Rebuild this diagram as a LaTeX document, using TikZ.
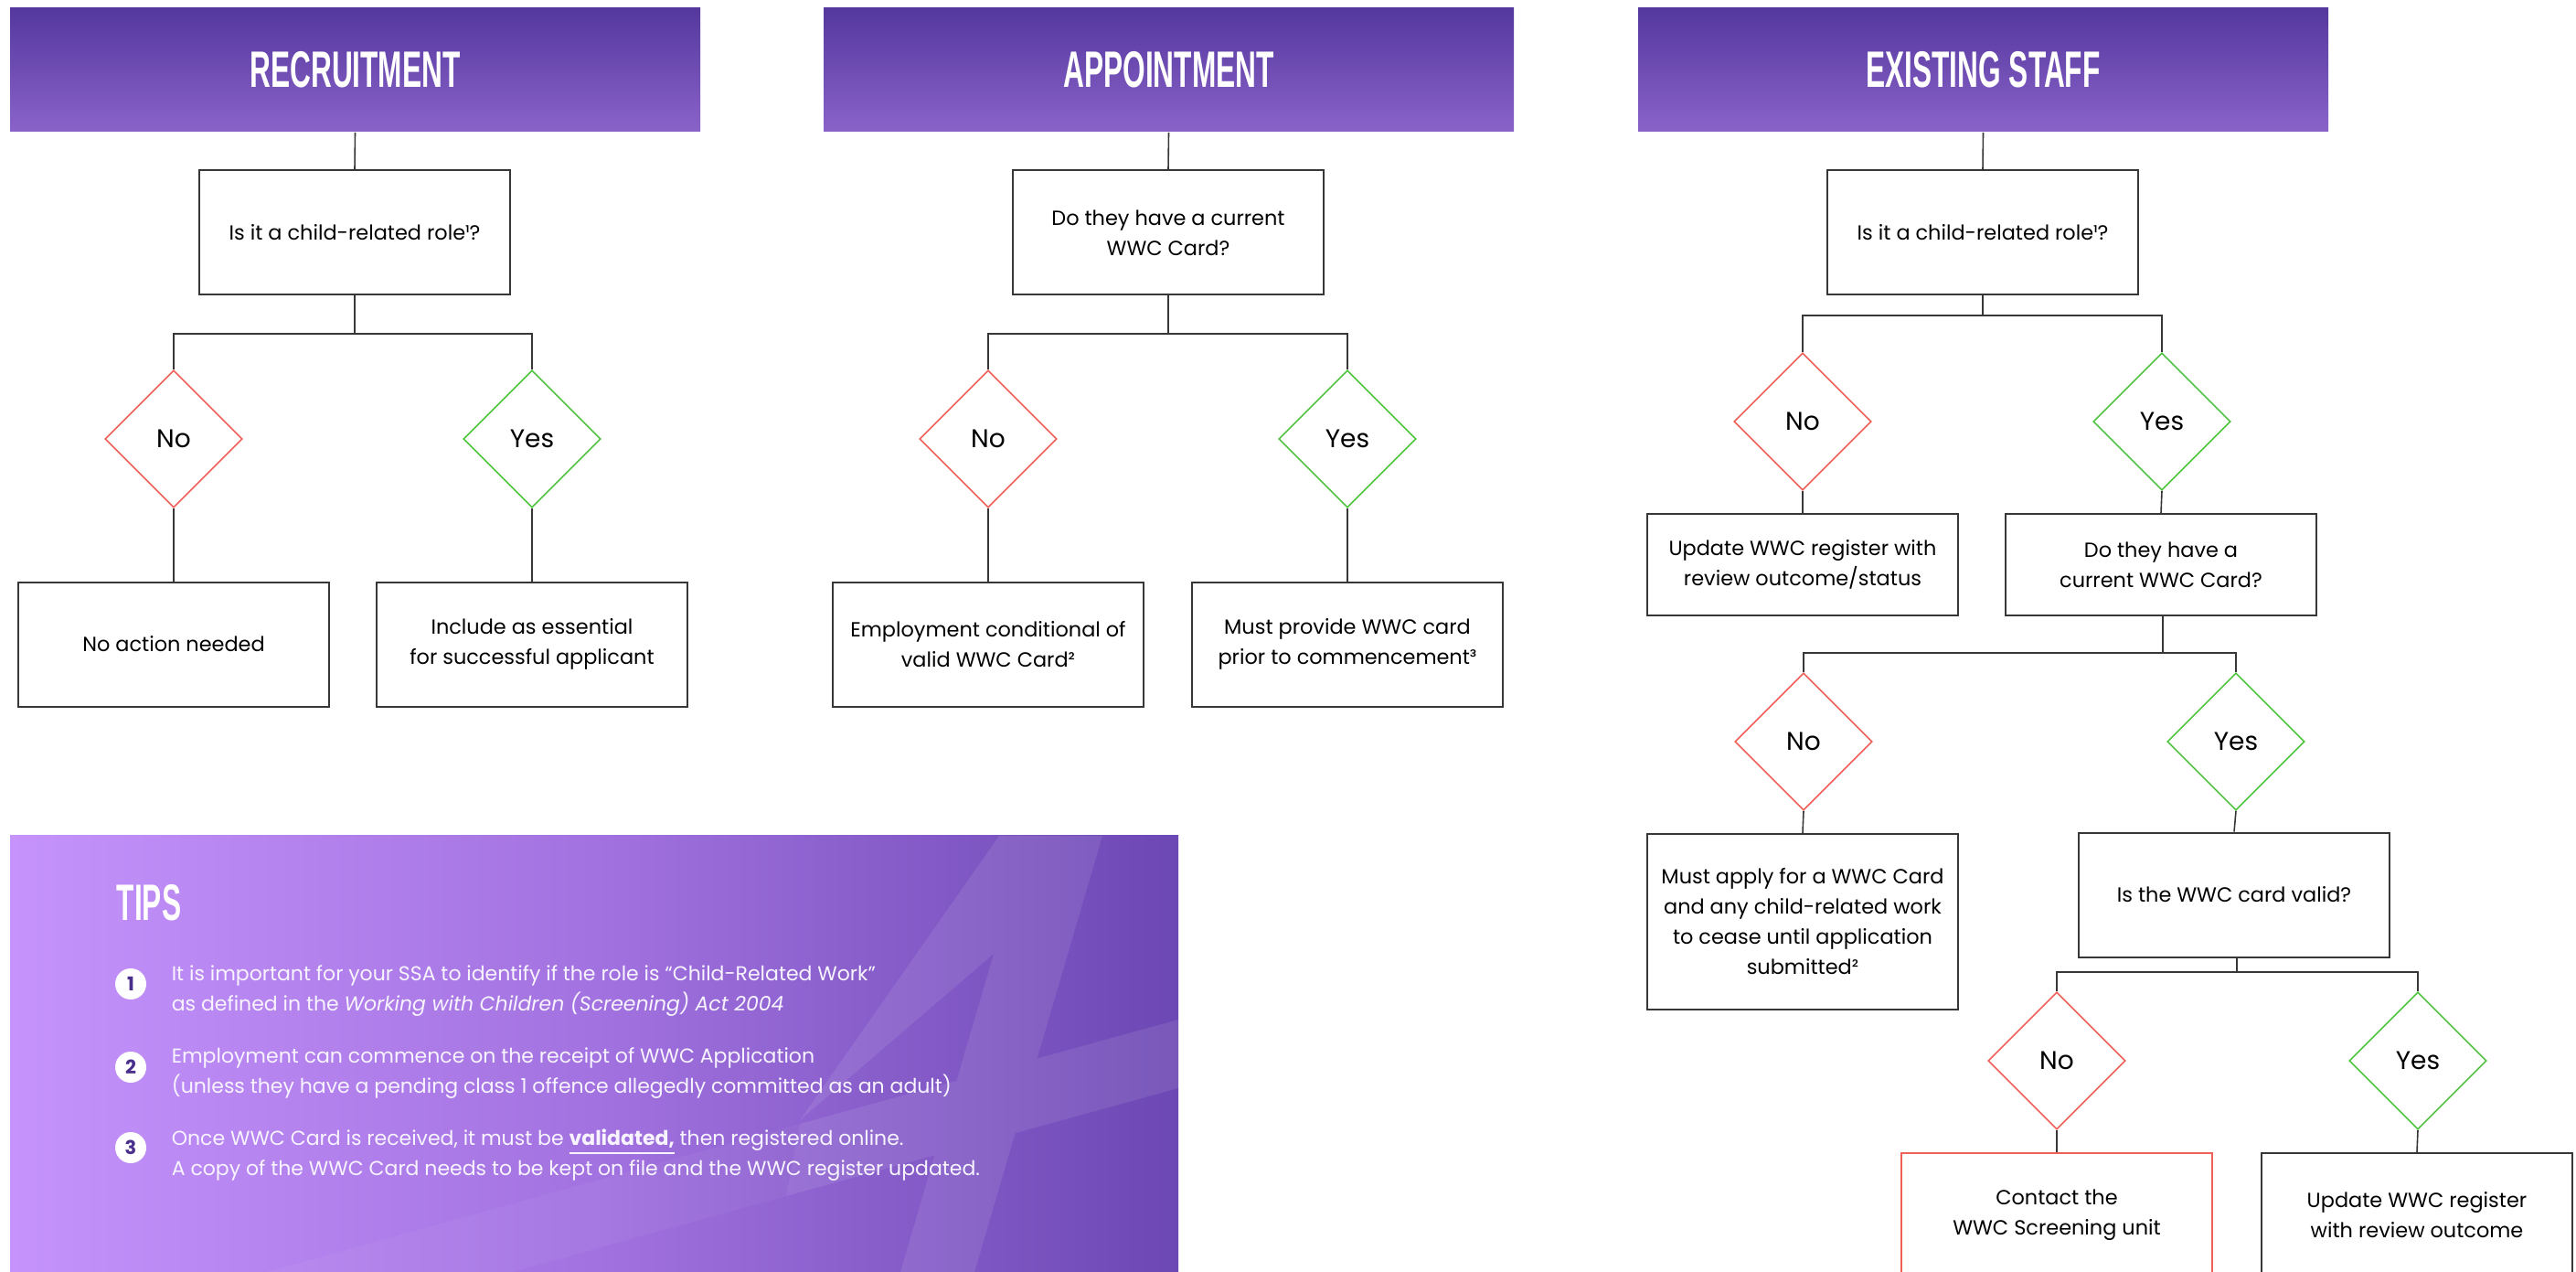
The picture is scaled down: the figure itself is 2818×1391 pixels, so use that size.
\documentclass[tikz,border=0pt]{standalone}
\usepackage{graphicx}
\usepackage{fontspec}
\setmainfont{Poppins}
\newfontfamily\headfont{Liberation Sans}
\usetikzlibrary{shapes.geometric}
\definecolor{hdtop}{RGB}{84,56,158}
\definecolor{hdbot}{RGB}{138,99,201}
\definecolor{nored}{RGB}{238,96,88}
\definecolor{yesgreen}{RGB}{80,196,64}
\definecolor{linegray}{RGB}{55,55,55}
\definecolor{tipl}{RGB}{197,147,251}
\definecolor{tipm}{RGB}{162,114,224}
\definecolor{tipr}{RGB}{108,72,180}
\definecolor{numcol}{RGB}{74,46,140}
\definecolor{tiptext}{RGB}{248,244,255}
\newcommand{\hdtext}[1]{\scalebox{0.565}[1]{\headfont\bfseries\fontsize{14}{14}\selectfont #1}}
\begin{document}
\begin{tikzpicture}[x=0.25pt,y=-0.25pt,
  hdr/.style={shade, top color=hdtop, bottom color=hdbot, minimum width=188.75pt, minimum height=33.75pt, inner sep=0pt, text=white},
  box/.style={draw=linegray, line width=0.5pt, fill=white, minimum width=85pt, minimum height=34pt, align=center, inner sep=0pt, font=\fontsize{5.6}{8.25}\selectfont},
  diam/.style={diamond, draw, fill=white, line width=0.4pt, minimum width=37.5pt, minimum height=37.5pt, inner sep=0pt, font=\fontsize{7}{8}\selectfont},
  nod/.style={diam, draw=nored},
  yesd/.style={diam, draw=yesgreen},
  conn/.style={draw=linegray, line width=0.4pt},
  tiptxt/.style={anchor=west, align=left, inner sep=0pt, text=tiptext, font=\fontsize{5.5}{8.25}\selectfont},
  numc/.style={circle, fill=white, minimum size=8.5pt, inner sep=0pt, text=numcol, font=\fontsize{5.2}{6}\selectfont\bfseries}
]
\useasboundingbox (0,0) rectangle (2818,1391);

% ---------- TIPS panel ----------
\shade[left color=tipl, right color=tipr, middle color=tipm] (11,913) rectangle (1289,1391);
\begin{scope}
\clip (11,913) rectangle (1289,1391);
\fill[white, opacity=0.09]
  (1125,914) -- (1206,914) -- (1066,1391) -- (985,1391) -- cycle
  (1093,914) -- (1125,914) -- (1087,1043) -- (875,1225) -- cycle
  (875,1229) -- (1289,1115) -- (1289,1190) -- (860,1308) -- cycle;
\fill[white, opacity=0.045]
  (292,1391) -- (875,1229) -- (860,1308) -- (560,1391) -- cycle;
\end{scope}
\node[anchor=base west, inner sep=0pt, text=white] (tipstitle) at (127,1006) {\hdtext{TIPS}};
\node[numc] (c1) at (143,1076) {1};
\node[numc] (c2) at (143,1167) {2};
\node[numc] (c3) at (143,1255) {3};
\node[tiptxt] (t1) at (187,1084) {It is important for your SSA to identify if the role is “Child-Related Work”\\as defined in the \textit{Working with Children (Screening) Act 2004}};
\node[tiptxt] (t2) at (187,1174) {Employment can commence on the receipt of WWC Application\\(unless they have a pending class 1 offence allegedly committed as an adult)};
\node[tiptxt] (t3) at (187,1263) {Once WWC Card is received, it must be \textbf{\underline{validated,}} then registered online.\\A copy of the WWC Card needs to be kept on file and the WWC register updated.};

% ---------- Headers ----------
\node[hdr] (h1) at (388.5,76.5) {\hdtext{RECRUITMENT}};
\node[hdr] (h2) at (1278.5,76.5) {\hdtext{APPOINTMENT}};
\node[hdr] (h3) at (2169.5,76.5) {\hdtext{EXISTING STAFF}};

% ---------- Column 1 ----------
\node[box] (q1) at (388,254.5) {Is it a child-related role¹?};
\node[nod] (d1n) at (190,480) {No};
\node[yesd] (d1y) at (582,480) {Yes};
\node[box] (b1n) at (190,704.5) {No action needed};
\node[box] (b1y) at (582,704.5) {Include as essential\\for successful applicant};
\coordinate (k1) at (388,365);
\draw[conn] (h1.south) -- (q1.north);
\draw[conn] (q1.south) -- (k1);
\draw[conn] (d1n.north) -- (d1n.north |- k1) -- (d1y.north |- k1) -- (d1y.north);
\draw[conn] (d1n.south) -- (b1n.north);
\draw[conn] (d1y.south) -- (b1y.north);

% ---------- Column 2 ----------
\node[box] (q2) at (1278,254.5) {Do they have a current\\WWC Card?};
\node[nod] (d2n) at (1081,480) {No};
\node[yesd] (d2y) at (1474,480) {Yes};
\node[box] (b2n) at (1081,704.5) {Employment conditional of\\valid WWC Card²};
\node[box] (b2y) at (1474,704.5) {Must provide WWC card\\prior to commencement³};
\coordinate (k2) at (1278,365);
\draw[conn] (h2.south) -- (q2.north);
\draw[conn] (q2.south) -- (k2);
\draw[conn] (d2n.north) -- (d2n.north |- k2) -- (d2y.north |- k2) -- (d2y.north);
\draw[conn] (d2n.south) -- (b2n.north);
\draw[conn] (d2y.south) -- (b2y.north);

% ---------- Column 3 ----------
\node[box] (q3) at (2169,254.5) {Is it a child-related role¹?};
\node[nod] (d3n) at (1972,461) {No};
\node[yesd] (d3y) at (2365,461) {Yes};
\node[box, minimum height=27.75pt] (b3n) at (1972,617.5) {Update WWC register with\\review outcome/status};
\node[box, minimum height=27.75pt] (q4) at (2364,617.5) {Do they have a\\current WWC Card?};
\coordinate (k3) at (2169,345);
\draw[conn] (h3.south) -- (q3.north);
\draw[conn] (q3.south) -- (k3);
\draw[conn] (d3n.north) -- (d3n.north |- k3) -- (d3y.north |- k3) -- (d3y.north);
\draw[conn] (d3n.south) -- (b3n.north);
\draw[conn] (d3y.south) -- (q4.north);

\node[nod] (d4n) at (1973,811) {No};
\node[yesd] (d4y) at (2446,811) {Yes};
\node[box, minimum height=48pt] (b4n) at (1972,1008) {Must apply for a WWC Card\\and any child-related work\\to cease until application\\submitted²};
\node[box] (q5) at (2444,978.5) {Is the WWC card valid?};
\coordinate (k4) at (2366,714);
\draw[conn] (q4.south -| k4) -- (k4);
\draw[conn] (d4n.north) -- (d4n.north |- k4) -- (d4y.north |- k4) -- (d4y.north);
\draw[conn] (d4n.south) -- (b4n.north);
\draw[conn] (d4y.south) -- (q5.north);

\node[nod] (d5n) at (2250,1160) {No};
\node[yesd] (d5y) at (2645,1160) {Yes};
\node[box, draw=nored] (b5n) at (2250,1329) {Contact the\\WWC Screening unit};
\node[box] (b5y) at (2644,1329) {Update WWC register\\with review outcome};
\coordinate (k5) at (2447,1063);
\draw[conn] (q5.south -| k5) -- (k5);
\draw[conn] (d5n.north) -- (d5n.north |- k5) -- (d5y.north |- k5) -- (d5y.north);
\draw[conn] (d5n.south) -- (b5n.north);
\draw[conn] (d5y.south) -- (b5y.north);
\end{tikzpicture}
\end{document}
